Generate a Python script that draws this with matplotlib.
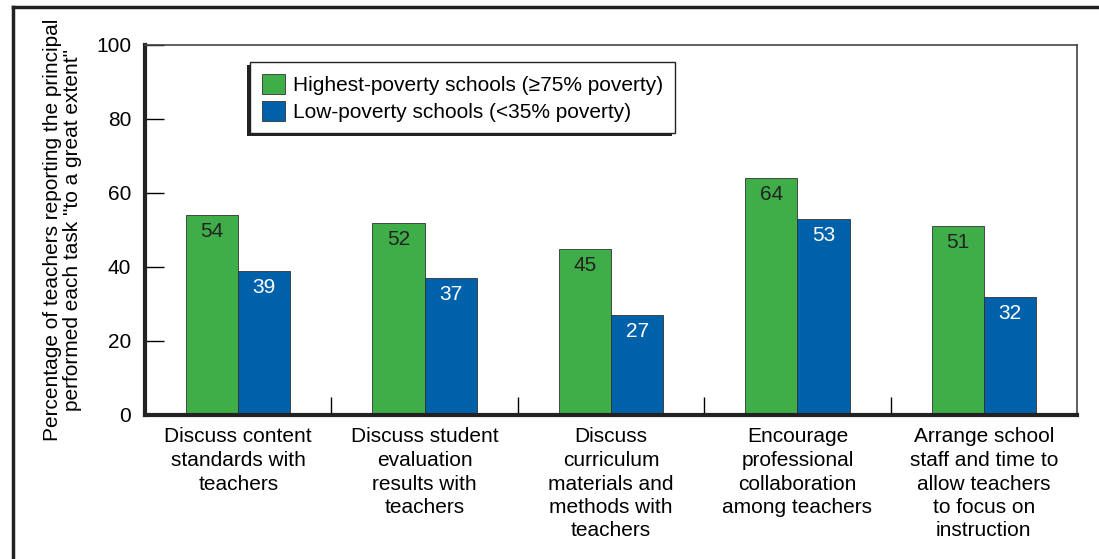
import matplotlib.pyplot as plt
import matplotlib.lines as mlines
import matplotlib.patches as mpatches
import numpy as np

plt.rcParams['font.family'] = ['Liberation Sans', 'DejaVu Sans']

# Data
tasks = ['Discuss content\nstandards with\nteachers',
         'Discuss student\nevaluation\nresults with\nteachers',
         'Discuss\ncurriculum\nmaterials and\nmethods with\nteachers',
         'Encourage\nprofessional\ncollaboration\namong teachers',
         'Arrange school\nstaff and time to\nallow teachers\nto focus on\ninstruction']
highest_poverty = [54, 52, 45, 64, 51]
low_poverty = [39, 37, 27, 53, 32]
series_labels = ['Highest-poverty schools (\u226575% poverty)',
                 'Low-poverty schools (<35% poverty)']
y_ticks = [0, 20, 40, 60, 80, 100]

green = '#3fae49'
blue = '#0061ab'
fs = 15

fig = plt.figure(figsize=(10.99, 5.59), dpi=100)
ax = fig.add_axes([145 / 1099, 1 - 415 / 559, 932 / 1099, 370 / 559])

x = np.arange(len(tasks))
width = 0.28

b1 = ax.bar(x - width / 2, highest_poverty, width, color=green, edgecolor='#333333',
            linewidth=0.6, label=series_labels[0], zorder=2)
b2 = ax.bar(x + width / 2, low_poverty, width, color=blue, edgecolor='#333333',
            linewidth=0.6, label=series_labels[1], zorder=2)

for bars, vals, tc in [(b1, highest_poverty, '#222222'), (b2, low_poverty, 'white')]:
    for bar, v in zip(bars, vals):
        ax.annotate(str(v), xy=(bar.get_x() + bar.get_width() / 2, v),
                    xytext=(0, -12), textcoords='offset points',
                    ha='center', va='center', fontsize=fs, color=tc, zorder=3)

ax.set_xlim(-0.5, len(tasks) - 0.5)
ax.set_ylim(0, 100)
ax.set_yticks(y_ticks)
ax.tick_params(axis='y', direction='in', length=14, width=1, labelsize=fs, pad=10)
ax.set_xticks(x)
ax.set_xticklabels(tasks, fontsize=fs, linespacing=1.3)
ax.tick_params(axis='x', length=0, pad=9)
ax.set_xticks(x[:-1] + 0.5, minor=True)
ax.tick_params(axis='x', which='minor', direction='in', length=13, width=1)

for side in ['left', 'bottom']:
    ax.spines[side].set_linewidth(3)
    ax.spines[side].set_color('#222222')
for side in ['top', 'right']:
    ax.spines[side].set_linewidth(1.2)
    ax.spines[side].set_color('#444444')

ax.set_ylabel('Percentage of teachers reporting the principal\nperformed each task "to a great extent"',
              fontsize=fs, labelpad=10, linespacing=1.1)

leg = ax.legend(loc='upper left', bbox_to_anchor=(0.102, 0.982), fontsize=fs,
                frameon=True, fancybox=False, edgecolor='#222222',
                handlelength=1.1, handleheight=1.1, handletextpad=0.4,
                borderpad=0.55, labelspacing=0.3)
leg.get_frame().set_linewidth(1.0)
leg.get_frame().set_alpha(1)

# shadow offset to the lower left of the legend box
fig.canvas.draw()
bb = leg.get_frame().get_window_extent(fig.canvas.get_renderer())
bb = bb.transformed(ax.transAxes.inverted())
dx = 3 / 932
dy = 3 / 370
ax.add_patch(mpatches.Rectangle((bb.x0 - dx, bb.y0 - dy), bb.width, bb.height,
                                transform=ax.transAxes, facecolor='#222222',
                                edgecolor='none', zorder=4, clip_on=False))

# outer frame of the figure
fig.add_artist(mlines.Line2D([13 / 1099, 13 / 1099], [0, 1 - 7 / 559],
                             color='#222222', linewidth=2.5))
fig.add_artist(mlines.Line2D([13 / 1099, 1], [1 - 7 / 559, 1 - 7 / 559],
                             color='#222222', linewidth=2.5))

fig.savefig('out.png', dpi=100, facecolor='white')
